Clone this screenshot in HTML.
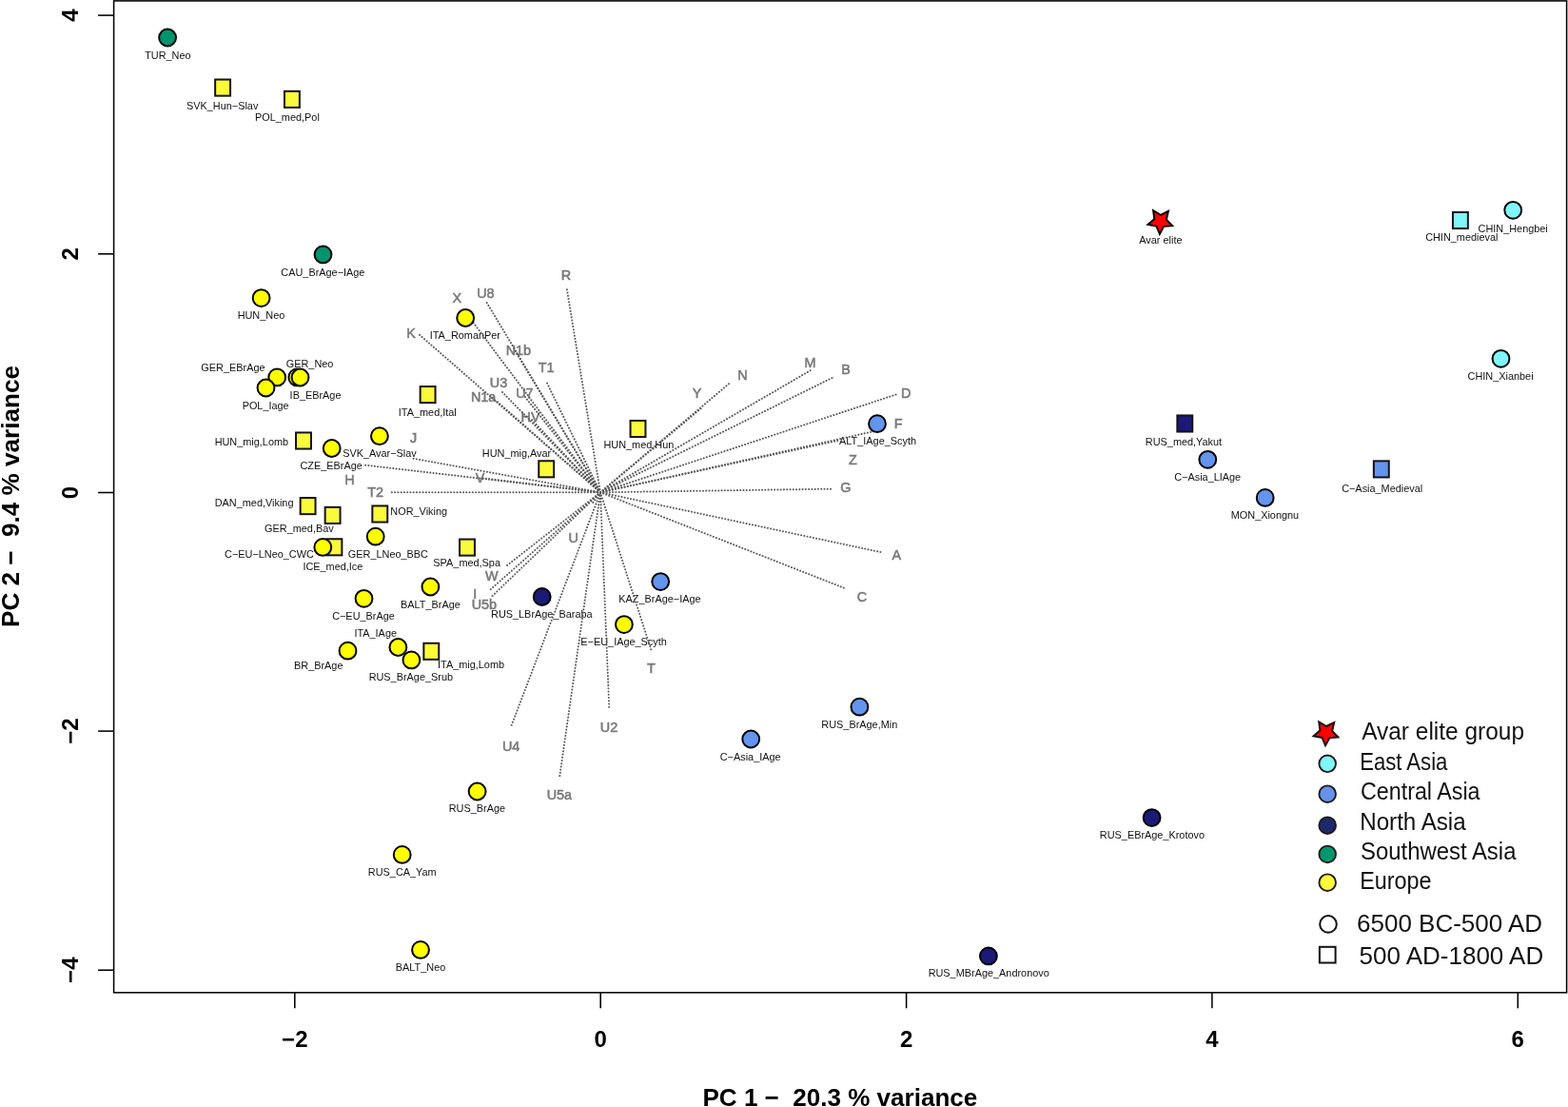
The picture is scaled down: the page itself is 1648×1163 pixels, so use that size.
<!DOCTYPE html><html><head><meta charset="utf-8"><title>PCA biplot</title><style>html,body{margin:0;padding:0;background:#fff;}svg{display:block;}text{font-family:"Liberation Sans",Arial,Helvetica,sans-serif;white-space:pre;}.lb{font-size:10.90px;fill:#111;}.ar{font-size:14.40px;font-weight:normal;fill:#7a7a7a;stroke:#7a7a7a;stroke-width:0.55px;}.tk{font-size:24px;font-weight:bold;fill:#000;}.ti{font-size:26px;font-weight:bold;fill:#000;}.lg{font-size:25px;fill:#111;}</style></head><body>
<svg width="1648" height="1163" viewBox="0 0 1648 1163">
<rect x="0" y="0" width="1648" height="1163" fill="#fff"/>
<g class="lb">
<text x="152.18" y="62.20">TUR_Neo</text>
<text x="195.96" y="114.70">SVK_Hun−Slav</text>
<text x="268.03" y="126.50">POL_med,Pol</text>
<text x="295.35" y="290.10">CAU_BrAge−IAge</text>
<text x="249.63" y="335.10">HUN_Neo</text>
<text x="211.36" y="390.30">GER_EBrAge</text>
<text x="254.63" y="429.80">POL_Iage</text>
<text x="300.75" y="385.70">GER_Neo</text>
<text x="304.62" y="418.50">IB_EBrAge</text>
<text x="225.63" y="467.60">HUN_mig,Lomb</text>
<text x="315.45" y="492.60">CZE_EBrAge</text>
<text x="360.15" y="480.20">SVK_Avar−Slav</text>
<text x="225.73" y="531.80">DAN_med,Viking</text>
<text x="278.06" y="558.70">GER_med,Bav</text>
<text x="410.33" y="541.00">NOR_Viking</text>
<text x="318.42" y="598.70">ICE_med,Ice</text>
<text x="236.06" y="586.10">C−EU−LNeo_CWC</text>
<text x="365.85" y="585.80">GER_LNeo_BBC</text>
<text x="455.35" y="594.60">SPA_med,Spa</text>
<text x="421.03" y="638.50">BALT_BrAge</text>
<text x="349.15" y="651.20">C−EU_BrAge</text>
<text x="372.42" y="669.40">ITA_IAge</text>
<text x="387.63" y="715.40">RUS_BrAge_Srub</text>
<text x="460.02" y="702.40">ITA_mig,Lomb</text>
<text x="309.03" y="703.30">BR_BrAge</text>
<text x="451.72" y="356.20">ITA_RomanPer</text>
<text x="418.82" y="437.00">ITA_med,Ital</text>
<text x="506.83" y="479.90">HUN_mig,Avar</text>
<text x="634.43" y="471.40">HUN_med,Hun</text>
<text x="882.10" y="467.00">ALT_IAge_Scyth</text>
<text x="650.33" y="632.80">KAZ_BrAge−IAge</text>
<text x="610.33" y="678.30">E−EU_IAge_Scyth</text>
<text x="516.03" y="648.90">RUS_LBrAge_Baraba</text>
<text x="471.73" y="853.40">RUS_BrAge</text>
<text x="386.83" y="919.80">RUS_CA_Yam</text>
<text x="415.83" y="1019.90">BALT_Neo</text>
<text x="756.75" y="798.70">C−Asia_IAge</text>
<text x="863.33" y="764.50">RUS_BrAge,Min</text>
<text x="1155.83" y="881.00">RUS_EBrAge_Krotovo</text>
<text x="975.63" y="1026.10">RUS_MBrAge_Andronovo</text>
<text x="1197.30" y="256.10">Avar elite</text>
<text x="1498.15" y="252.80">CHIN_medieval</text>
<text x="1553.55" y="243.70">CHIN_Hengbei</text>
<text x="1542.55" y="398.80">CHIN_Xianbei</text>
<text x="1203.83" y="467.60">RUS_med,Yakut</text>
<text x="1234.25" y="504.90">C−Asia_LIAge</text>
<text x="1293.73" y="545.20">MON_Xiongnu</text>
<text x="1410.15" y="517.10">C−Asia_Medieval</text>
</g>
<g class="ar">
<text transform="translate(589.70,294.40) scale(1,1.03)">R</text>
<text transform="translate(501.22,313.40) scale(1,1.03)">U8</text>
<text transform="translate(475.48,317.70) scale(1,1.03)">X</text>
<text transform="translate(427.14,354.90) scale(1,1.03)">K</text>
<text transform="translate(531.71,372.60) scale(1,1.03)">N1b</text>
<text transform="translate(565.64,391.00) scale(1,1.03)">T1</text>
<text transform="translate(514.82,407.30) scale(1,1.03)">U3</text>
<text transform="translate(494.88,422.40) scale(1,1.03)">N1a</text>
<text transform="translate(542.17,418.00) scale(1,1.03)">U7</text>
<text transform="translate(547.54,443.40) scale(1,1.03)">HV</text>
<text transform="translate(431.06,465.00) scale(1,1.03)">J</text>
<text transform="translate(362.27,508.80) scale(1,1.03)">H</text>
<text transform="translate(386.19,521.60) scale(1,1.03)">T2</text>
<text transform="translate(499.73,506.80) scale(1,1.03)">V</text>
<text transform="translate(727.75,418.30) scale(1,1.03)">Y</text>
<text transform="translate(775.27,399.30) scale(1,1.03)">N</text>
<text transform="translate(845.47,386.40) scale(1,1.03)">M</text>
<text transform="translate(884.21,393.20) scale(1,1.03)">B</text>
<text transform="translate(946.88,418.30) scale(1,1.03)">D</text>
<text transform="translate(939.82,450.40) scale(1,1.03)">F</text>
<text transform="translate(891.96,488.20) scale(1,1.03)">Z</text>
<text transform="translate(883.25,517.00) scale(1,1.03)">G</text>
<text transform="translate(937.55,587.90) scale(1,1.03)">A</text>
<text transform="translate(900.69,632.40) scale(1,1.03)">C</text>
<text transform="translate(679.96,707.30) scale(1,1.03)">T</text>
<text transform="translate(630.87,769.20) scale(1,1.03)">U2</text>
<text transform="translate(574.63,839.50) scale(1,1.03)">U5a</text>
<text transform="translate(527.92,788.80) scale(1,1.03)">U4</text>
<text transform="translate(495.71,639.50) scale(1,1.03)">U5b</text>
<text transform="translate(497.13,628.90) scale(1,1.03)">I</text>
<text transform="translate(509.98,610.40) scale(1,1.03)">W</text>
<text transform="translate(597.54,570.40) scale(1,1.03)">U</text>
</g>
<g stroke="#5c5c5c" stroke-width="2.0" stroke-linecap="round" stroke-dasharray="0.1 3.17" fill="none">
<line x1="631.0" y1="517.3" x2="595.8" y2="303.5"/>
<line x1="631.0" y1="517.3" x2="511.2" y2="317.2"/>
<line x1="631.0" y1="517.3" x2="492.1" y2="331.8"/>
<line x1="631.0" y1="517.3" x2="440.4" y2="351.3"/>
<line x1="631.0" y1="517.3" x2="541.2" y2="368.2"/>
<line x1="631.0" y1="517.3" x2="574.6" y2="401.7"/>
<line x1="631.0" y1="517.3" x2="527.2" y2="411.2"/>
<line x1="631.0" y1="517.3" x2="520.6" y2="420.2"/>
<line x1="631.0" y1="517.3" x2="550.1" y2="414.8"/>
<line x1="631.0" y1="517.3" x2="557.0" y2="438.9"/>
<line x1="631.0" y1="517.3" x2="433.1" y2="481.5"/>
<line x1="631.0" y1="517.3" x2="382.8" y2="488.5"/>
<line x1="631.0" y1="517.3" x2="410.5" y2="517.3"/>
<line x1="631.0" y1="517.3" x2="507.5" y2="502.3"/>
<line x1="631.0" y1="517.3" x2="738.7" y2="427.5"/>
<line x1="631.0" y1="517.3" x2="767.3" y2="402.1"/>
<line x1="631.0" y1="517.3" x2="853.3" y2="388.3"/>
<line x1="631.0" y1="517.3" x2="875.8" y2="396.4"/>
<line x1="631.0" y1="517.3" x2="942.9" y2="414.1"/>
<line x1="631.0" y1="517.3" x2="920.5" y2="452.7"/>
<line x1="631.0" y1="517.3" x2="881.5" y2="462.7"/>
<line x1="631.0" y1="517.3" x2="874.9" y2="513.6"/>
<line x1="631.0" y1="517.3" x2="927.1" y2="580.4"/>
<line x1="631.0" y1="517.3" x2="888.4" y2="618.2"/>
<line x1="631.0" y1="517.3" x2="684.5" y2="683.2"/>
<line x1="631.0" y1="517.3" x2="640.3" y2="744.4"/>
<line x1="631.0" y1="517.3" x2="588.1" y2="816.4"/>
<line x1="631.0" y1="517.3" x2="537.3" y2="762.8"/>
<line x1="631.0" y1="517.3" x2="516.1" y2="627.4"/>
<line x1="631.0" y1="517.3" x2="514.5" y2="620.2"/>
<line x1="631.0" y1="517.3" x2="531.5" y2="595.1"/>
<line x1="631.0" y1="517.3" x2="623.1" y2="528.2"/>
</g>
<circle cx="176.1" cy="39.5" r="8.90" fill="#00936e" stroke="#000" stroke-width="2.00"/>
<rect x="226.15" y="83.55" width="15.90" height="17.10" fill="#fafa3c" stroke="#15111c" stroke-width="2.00"/>
<rect x="298.95" y="95.85" width="15.90" height="17.10" fill="#fafa3c" stroke="#15111c" stroke-width="2.00"/>
<circle cx="339.5" cy="267.4" r="8.90" fill="#00936e" stroke="#000" stroke-width="2.00"/>
<circle cx="274.6" cy="313.1" r="8.90" fill="#ffff00" stroke="#000" stroke-width="2.00"/>
<circle cx="291.2" cy="396.4" r="8.90" fill="#ffff00" stroke="#000" stroke-width="2.00"/>
<circle cx="279.5" cy="407.5" r="8.90" fill="#ffff00" stroke="#000" stroke-width="2.00"/>
<circle cx="312.3" cy="396.4" r="8.90" fill="#ffff00" stroke="#000" stroke-width="2.00"/>
<circle cx="315.5" cy="396.5" r="8.90" fill="#ffff00" stroke="#000" stroke-width="2.00"/>
<rect x="311.05" y="454.45" width="15.90" height="17.10" fill="#fafa3c" stroke="#15111c" stroke-width="2.00"/>
<circle cx="348.7" cy="471.0" r="8.90" fill="#ffff00" stroke="#000" stroke-width="2.00"/>
<circle cx="398.9" cy="458.2" r="8.90" fill="#ffff00" stroke="#000" stroke-width="2.00"/>
<rect x="315.65" y="523.05" width="15.90" height="17.10" fill="#fafa3c" stroke="#15111c" stroke-width="2.00"/>
<rect x="341.65" y="532.85" width="15.90" height="17.10" fill="#fafa3c" stroke="#15111c" stroke-width="2.00"/>
<rect x="391.35" y="531.45" width="15.90" height="17.10" fill="#fafa3c" stroke="#15111c" stroke-width="2.00"/>
<rect x="343.45" y="566.25" width="15.90" height="17.10" fill="#fafa3c" stroke="#15111c" stroke-width="2.00"/>
<circle cx="339.3" cy="574.9" r="8.90" fill="#ffff00" stroke="#000" stroke-width="2.00"/>
<circle cx="394.7" cy="563.7" r="8.90" fill="#ffff00" stroke="#000" stroke-width="2.00"/>
<rect x="483.05" y="566.55" width="15.90" height="17.10" fill="#fafa3c" stroke="#15111c" stroke-width="2.00"/>
<circle cx="452.4" cy="616.5" r="8.90" fill="#ffff00" stroke="#000" stroke-width="2.00"/>
<circle cx="382.5" cy="628.8" r="8.90" fill="#ffff00" stroke="#000" stroke-width="2.00"/>
<circle cx="418.4" cy="680.0" r="8.90" fill="#ffff00" stroke="#000" stroke-width="2.00"/>
<circle cx="432.4" cy="693.4" r="8.90" fill="#ffff00" stroke="#000" stroke-width="2.00"/>
<rect x="445.35" y="675.75" width="15.90" height="17.10" fill="#fafa3c" stroke="#15111c" stroke-width="2.00"/>
<circle cx="365.5" cy="683.7" r="8.90" fill="#ffff00" stroke="#000" stroke-width="2.00"/>
<circle cx="489.2" cy="334.0" r="8.90" fill="#ffff00" stroke="#000" stroke-width="2.00"/>
<rect x="441.65" y="406.05" width="15.90" height="17.10" fill="#fafa3c" stroke="#15111c" stroke-width="2.00"/>
<rect x="566.25" y="484.25" width="15.90" height="17.10" fill="#fafa3c" stroke="#15111c" stroke-width="2.00"/>
<rect x="662.55" y="441.95" width="15.90" height="17.10" fill="#fafa3c" stroke="#15111c" stroke-width="2.00"/>
<circle cx="922.0" cy="445.2" r="8.90" fill="#6495ed" stroke="#000" stroke-width="2.00"/>
<circle cx="694.2" cy="611.1" r="8.90" fill="#6495ed" stroke="#000" stroke-width="2.00"/>
<circle cx="655.9" cy="656.1" r="8.90" fill="#ffff00" stroke="#000" stroke-width="2.00"/>
<circle cx="569.7" cy="627.0" r="8.90" fill="#1b1a76" stroke="#000" stroke-width="2.00"/>
<circle cx="501.6" cy="831.5" r="8.90" fill="#ffff00" stroke="#000" stroke-width="2.00"/>
<circle cx="422.7" cy="897.9" r="8.90" fill="#ffff00" stroke="#000" stroke-width="2.00"/>
<circle cx="442.0" cy="997.9" r="8.90" fill="#ffff00" stroke="#000" stroke-width="2.00"/>
<circle cx="789.2" cy="776.5" r="8.90" fill="#6495ed" stroke="#000" stroke-width="2.00"/>
<circle cx="903.4" cy="742.7" r="8.90" fill="#6495ed" stroke="#000" stroke-width="2.00"/>
<circle cx="1210.6" cy="859.1" r="8.90" fill="#1b1a76" stroke="#000" stroke-width="2.00"/>
<circle cx="1038.9" cy="1004.4" r="8.90" fill="#1b1a76" stroke="#000" stroke-width="2.00"/>
<polygon points="1218.86,245.98 1215.37,237.55 1206.38,235.99 1213.33,230.07 1212.03,221.03 1219.81,225.81 1228.00,221.79 1225.87,230.66 1232.22,237.21 1223.12,237.92" fill="#ff0000" stroke="#000" stroke-width="1.9" stroke-linejoin="miter" stroke-miterlimit="10"/>
<rect x="1526.95" y="222.95" width="15.90" height="17.10" fill="#80f6fa" stroke="#15111c" stroke-width="2.00"/>
<circle cx="1590.2" cy="220.8" r="8.90" fill="#80f6fa" stroke="#000" stroke-width="2.00"/>
<circle cx="1577.5" cy="376.8" r="8.90" fill="#80f6fa" stroke="#000" stroke-width="2.00"/>
<rect x="1237.35" y="436.45" width="15.90" height="17.10" fill="#1b1a76" stroke="#15111c" stroke-width="2.00"/>
<circle cx="1269.3" cy="482.8" r="8.90" fill="#6495ed" stroke="#000" stroke-width="2.00"/>
<circle cx="1329.7" cy="522.9" r="8.90" fill="#6495ed" stroke="#000" stroke-width="2.00"/>
<rect x="1443.85" y="484.35" width="15.90" height="17.10" fill="#6495ed" stroke="#15111c" stroke-width="2.00"/>
<g stroke="#000" stroke-width="1.55" fill="none">
<rect x="119.6" y="0.9" width="1527.0" height="1041.9"/>
<line x1="309.8" y1="1042.8" x2="309.8" y2="1059.3"/>
<line x1="631.2" y1="1042.8" x2="631.2" y2="1059.3"/>
<line x1="952.6" y1="1042.8" x2="952.6" y2="1059.3"/>
<line x1="1273.9" y1="1042.8" x2="1273.9" y2="1059.3"/>
<line x1="1595.3" y1="1042.8" x2="1595.3" y2="1059.3"/>
<line x1="103.1" y1="16.1" x2="119.6" y2="16.1"/>
<line x1="103.1" y1="266.8" x2="119.6" y2="266.8"/>
<line x1="103.1" y1="517.5" x2="119.6" y2="517.5"/>
<line x1="103.1" y1="768.1" x2="119.6" y2="768.1"/>
<line x1="103.1" y1="1019.2" x2="119.6" y2="1019.2"/>
</g>
<text class="tk" x="309.8" y="1099.8" text-anchor="middle">−2</text>
<text class="tk" x="631.2" y="1099.8" text-anchor="middle">0</text>
<text class="tk" x="952.6" y="1099.8" text-anchor="middle">2</text>
<text class="tk" x="1273.9" y="1099.8" text-anchor="middle">4</text>
<text class="tk" x="1595.3" y="1099.8" text-anchor="middle">6</text>
<text class="tk" transform="translate(82.3,16.1) rotate(-90)" x="0" y="0" text-anchor="middle">4</text>
<text class="tk" transform="translate(82.3,266.8) rotate(-90)" x="0" y="0" text-anchor="middle">2</text>
<text class="tk" transform="translate(82.3,517.5) rotate(-90)" x="0" y="0" text-anchor="middle">0</text>
<text class="tk" transform="translate(82.3,768.1) rotate(-90)" x="0" y="0" text-anchor="middle">−2</text>
<text class="tk" transform="translate(82.3,1019.2) rotate(-90)" x="0" y="0" text-anchor="middle">−4</text>
<text class="ti" style="font-size:26.05px" x="738.48" y="1162.0">PC 1 −  20.3 % variance</text>
<text class="ti" style="font-size:26.12px" transform="translate(20.0,659.03) rotate(-90)" x="0" y="0">PC 2 −  9.4 % variance</text>
<text class="lg" x="1431.20" y="777.40" textLength="170.8" lengthAdjust="spacingAndGlyphs">Avar elite group</text>
<polygon points="1393.06,783.28 1389.51,774.93 1380.58,773.29 1387.43,767.33 1386.23,758.33 1394.02,763.01 1402.20,759.09 1400.16,767.93 1406.42,774.51 1397.38,775.30" fill="#ff0000" stroke="#1a1416" stroke-width="2.0" stroke-miterlimit="10"/>
<text class="lg" x="1429.20" y="808.80" textLength="92.2" lengthAdjust="spacingAndGlyphs">East Asia</text>
<circle cx="1395.2" cy="802.3" r="8.8" fill="#7ff6f8" stroke="#231816" stroke-width="1.9"/>
<text class="lg" x="1429.95" y="839.80" textLength="125.6" lengthAdjust="spacingAndGlyphs">Central Asia</text>
<circle cx="1395.2" cy="834.2" r="8.8" fill="#6493e9" stroke="#231816" stroke-width="1.9"/>
<text class="lg" x="1429.20" y="871.60" textLength="111.5" lengthAdjust="spacingAndGlyphs">North Asia</text>
<circle cx="1395.2" cy="867.2" r="8.8" fill="#1c2a6c" stroke="#231816" stroke-width="1.9"/>
<text class="lg" x="1429.95" y="902.70" textLength="163.5" lengthAdjust="spacingAndGlyphs">Southwest Asia</text>
<circle cx="1395.2" cy="897.4" r="8.8" fill="#00976e" stroke="#231816" stroke-width="1.9"/>
<text class="lg" x="1429.20" y="933.70" textLength="75.4" lengthAdjust="spacingAndGlyphs">Europe</text>
<circle cx="1395.2" cy="927.2" r="8.8" fill="#fcfc3c" stroke="#231816" stroke-width="1.9"/>
<circle cx="1396.0" cy="970.9" r="8.8" fill="none" stroke="#111" stroke-width="2.0"/>
<rect x="1386.9" y="994.8" width="16.7" height="16.7" fill="none" stroke="#111" stroke-width="2.0"/>
<text class="lg" style="font-size:26px" x="1426.00" y="978.80">6500 BC-500 AD</text>
<text class="lg" style="font-size:26px" x="1428.56" y="1012.50">500 AD-1800 AD</text>
</svg></body></html>
